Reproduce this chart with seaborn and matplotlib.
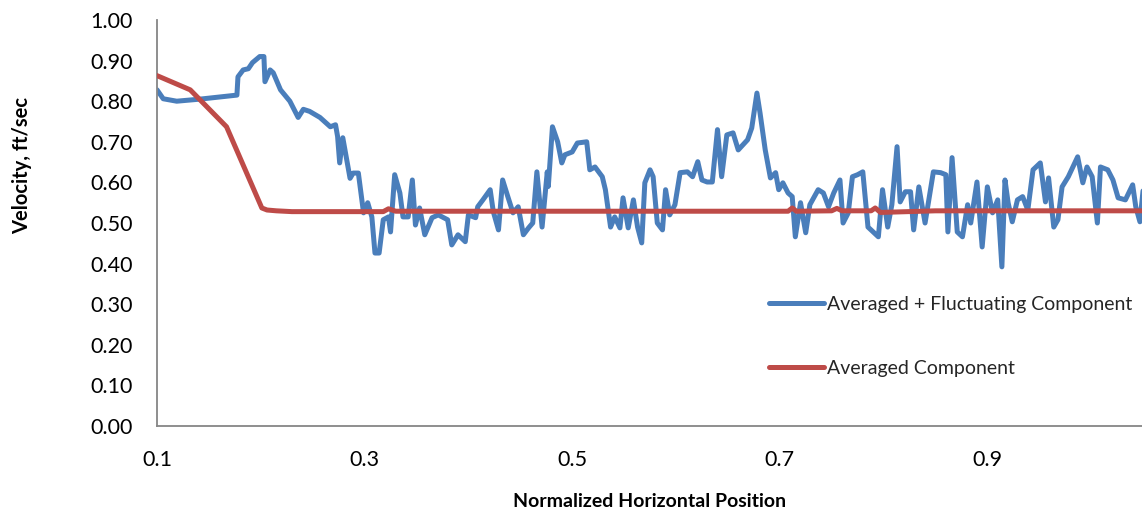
import numpy as np
import pandas as pd
import matplotlib
matplotlib.use("Agg")
import matplotlib.pyplot as plt
import seaborn as sns

# ---- data ----
blue_x = [0.100, 0.106, 0.119, 0.141, 0.177, 0.178, 0.183, 0.188, 0.192, 0.199,
          0.203, 0.204, 0.209, 0.212, 0.219, 0.228, 0.236, 0.241, 0.247, 0.257,
          0.267, 0.272, 0.274, 0.276, 0.279, 0.286, 0.289, 0.294, 0.299, 0.303,
          0.307, 0.310, 0.314, 0.318, 0.323, 0.325, 0.329, 0.334, 0.337, 0.342,
          0.346, 0.349, 0.353, 0.358, 0.365, 0.371, 0.380, 0.384, 0.390, 0.397,
          0.400, 0.407, 0.409, 0.414, 0.421, 0.424, 0.429, 0.433, 0.438, 0.443,
          0.448, 0.453, 0.458, 0.462, 0.466, 0.471, 0.476, 0.477, 0.481, 0.486,
          0.490, 0.493, 0.500, 0.505, 0.514, 0.517, 0.522, 0.529, 0.532, 0.537,
          0.541, 0.546, 0.549, 0.554, 0.559, 0.563, 0.567, 0.570, 0.575, 0.578,
          0.582, 0.587, 0.590, 0.594, 0.599, 0.604, 0.611, 0.616, 0.621, 0.625,
          0.630, 0.635, 0.640, 0.644, 0.649, 0.655, 0.660, 0.669, 0.673, 0.678,
          0.681, 0.686, 0.691, 0.696, 0.699, 0.703, 0.708, 0.712, 0.715, 0.720,
          0.725, 0.729, 0.737, 0.742, 0.747, 0.752, 0.758, 0.761, 0.766, 0.770,
          0.775, 0.780, 0.785, 0.790, 0.795, 0.799, 0.804, 0.808, 0.813, 0.816,
          0.821, 0.826, 0.829, 0.834, 0.840, 0.848, 0.855, 0.860, 0.862, 0.866,
          0.871, 0.876, 0.881, 0.884, 0.890, 0.895, 0.900, 0.905, 0.910, 0.914,
          0.917, 0.920, 0.924, 0.929, 0.934, 0.939, 0.944, 0.951, 0.956, 0.959,
          0.964, 0.968, 0.972, 0.978, 0.987, 0.992, 0.996, 1.001, 1.006, 1.009,
          1.016, 1.021, 1.026, 1.033, 1.040, 1.043, 1.047, 1.050]
blue_y = [0.828, 0.806, 0.800, 0.805, 0.815, 0.860, 0.877, 0.880, 0.895, 0.910,
          0.910, 0.848, 0.877, 0.870, 0.828, 0.800, 0.760, 0.780, 0.775, 0.760,
          0.737, 0.742, 0.713, 0.648, 0.710, 0.610, 0.623, 0.623, 0.525, 0.550,
          0.515, 0.426, 0.426, 0.508, 0.515, 0.478, 0.619, 0.574, 0.515, 0.515,
          0.606, 0.495, 0.537, 0.471, 0.513, 0.520, 0.508, 0.446, 0.471, 0.454,
          0.520, 0.513, 0.540, 0.557, 0.582, 0.528, 0.483, 0.606, 0.565, 0.525,
          0.540, 0.471, 0.488, 0.500, 0.626, 0.490, 0.626, 0.590, 0.737, 0.700,
          0.648, 0.668, 0.675, 0.697, 0.700, 0.631, 0.638, 0.614, 0.582, 0.490,
          0.515, 0.488, 0.562, 0.488, 0.557, 0.490, 0.451, 0.599, 0.631, 0.614,
          0.500, 0.483, 0.582, 0.520, 0.545, 0.624, 0.626, 0.614, 0.651, 0.606,
          0.601, 0.601, 0.730, 0.614, 0.717, 0.722, 0.680, 0.705, 0.734, 0.820,
          0.771, 0.680, 0.611, 0.624, 0.582, 0.599, 0.574, 0.565, 0.466, 0.550,
          0.476, 0.545, 0.582, 0.574, 0.540, 0.574, 0.606, 0.500, 0.525, 0.614,
          0.619, 0.626, 0.490, 0.478, 0.466, 0.582, 0.490, 0.545, 0.688, 0.552,
          0.577, 0.577, 0.483, 0.589, 0.500, 0.626, 0.624, 0.619, 0.478, 0.661,
          0.478, 0.466, 0.545, 0.500, 0.601, 0.441, 0.589, 0.525, 0.557, 0.392,
          0.606, 0.550, 0.503, 0.557, 0.565, 0.532, 0.631, 0.648, 0.552, 0.611,
          0.490, 0.508, 0.589, 0.614, 0.663, 0.599, 0.638, 0.614, 0.500, 0.638,
          0.631, 0.606, 0.562, 0.557, 0.594, 0.540, 0.503, 0.580]

red_x = [0.100, 0.132, 0.167, 0.201, 0.206, 0.215, 0.230, 0.260, 0.300, 0.318,
         0.323, 0.330, 0.400, 0.500, 0.600, 0.700, 0.708, 0.712, 0.716, 0.750,
         0.755, 0.760, 0.788, 0.792, 0.797, 0.850, 0.950, 1.050]
red_y = [0.863, 0.828, 0.737, 0.537, 0.532, 0.530, 0.528, 0.528, 0.528, 0.528,
         0.535, 0.529, 0.529, 0.529, 0.529, 0.529, 0.529, 0.537, 0.529, 0.530,
         0.536, 0.530, 0.530, 0.537, 0.526, 0.530, 0.530, 0.530]

series_names = ["Averaged + Fluctuating Component", "Averaged Component"]
x_ticks = [0.1, 0.3, 0.5, 0.7, 0.9]
y_ticks = [0.0, 0.1, 0.2, 0.3, 0.4, 0.5, 0.6, 0.7, 0.8, 0.9, 1.0]

# ---- style ----
sns.set_theme(style="white")
plt.rcParams['font.family'] = ['Lato', 'DejaVu Sans']

W, H = 1142, 508
fig = plt.figure(figsize=(W / 100, H / 100), dpi=100)
ax = fig.add_axes([157 / W, 1 - 426 / H, (W - 157) / W, (426 - 20) / H])

blue = "#4A7EBB"
red = "#BE4B48"
grey = "#868686"

sns.lineplot(x=blue_x, y=blue_y, ax=ax, color=blue, linewidth=3.6,
             sort=False, estimator=None, label=series_names[0], zorder=2)
sns.lineplot(x=red_x, y=red_y, ax=ax, color=red, linewidth=3.6,
             sort=False, estimator=None, label=series_names[1], zorder=3)

ax.set_xlim(0.1, 1.049)
ax.set_ylim(0, 1.0)
ax.set_xticks(x_ticks)
ax.set_xticklabels([f"{v:.1f}" for v in x_ticks])
ax.set_yticks(y_ticks)
ax.set_yticklabels([f"{v:.2f}" for v in y_ticks])

for s in ["top", "right"]:
    ax.spines[s].set_visible(False)
for s in ["left", "bottom"]:
    ax.spines[s].set_color(grey)
    ax.spines[s].set_linewidth(1.3)

ax.tick_params(axis="both", which="major", direction="out", length=6.5,
               width=1.0, color=grey, labelsize=15.5, labelcolor="#000000")
ax.tick_params(axis="y", pad=11)
ax.tick_params(axis="x", pad=11)
ax.grid(False)
ax.set_xlabel("")
ax.set_ylabel("")

fig.text(22 / W, 1 - 166 / H, "Velocity, ft/sec", rotation=90, ha="center",
         va="center", fontsize=14.5, fontweight="bold", color="#000000")
fig.text(650 / W, 1 - 507 / H, "Normalized Horizontal Position", ha="center",
         va="baseline", fontsize=14, fontweight="bold", color="#000000")

leg = ax.legend(loc="upper left", bbox_to_anchor=(769 / W, 1 - 296 / H),
                bbox_transform=fig.transFigure, frameon=False, fontsize=14,
                handlelength=2.85, handletextpad=0.15, labelspacing=2.4,
                borderpad=0, borderaxespad=0)
for line in leg.get_lines():
    line.set_linewidth(3.6)

fig.savefig("out.png", dpi=100)
